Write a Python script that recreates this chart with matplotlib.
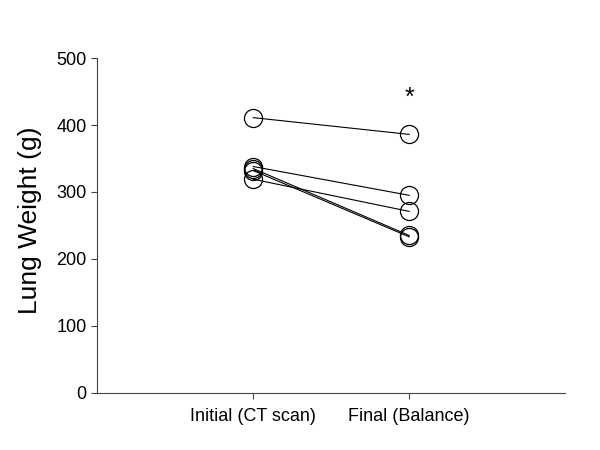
import matplotlib
matplotlib.use("Agg")
import matplotlib.pyplot as plt

plt.rcParams['font.family'] = ['Liberation Sans', 'DejaVu Sans']

# categories and paired values (one line per subject)
categories = ["Initial (CT scan)", "Final (Balance)"]
initial = [411, 338, 319, 335, 332]
final = [386, 295, 271, 235, 233]
star_y = 440

fig = plt.figure(figsize=(6, 4.5), dpi=100)
ax = fig.add_axes([0.162, 0.127, 0.78, 0.744])

for a, b in zip(initial, final):
    ax.plot([0, 1], [a, b], color='black', lw=0.8, marker='o', ms=13,
            mfc='none', mec='black', mew=0.9)

ax.text(1, star_y, '*', ha='center', va='center', fontsize=18)

ax.set_xlim(-1, 2)
ax.set_ylim(0, 500)
ax.set_xticks([0, 1])
ax.set_xticklabels(categories, fontsize=13)
ax.set_yticks([0, 100, 200, 300, 400, 500])
ax.tick_params(axis='y', labelsize=13, length=4, width=0.8, color='#444444')
ax.tick_params(axis='x', length=4, width=0.8, color='#444444', pad=7)
ax.set_ylabel("Lung Weight (g)", fontsize=19)
ax.yaxis.set_label_coords(-0.117, 0.516)

for s in ['top', 'right']:
    ax.spines[s].set_visible(False)
for s in ['left', 'bottom']:
    ax.spines[s].set_color('#444444')
    ax.spines[s].set_linewidth(0.8)

fig.savefig("out.png", dpi=100)
